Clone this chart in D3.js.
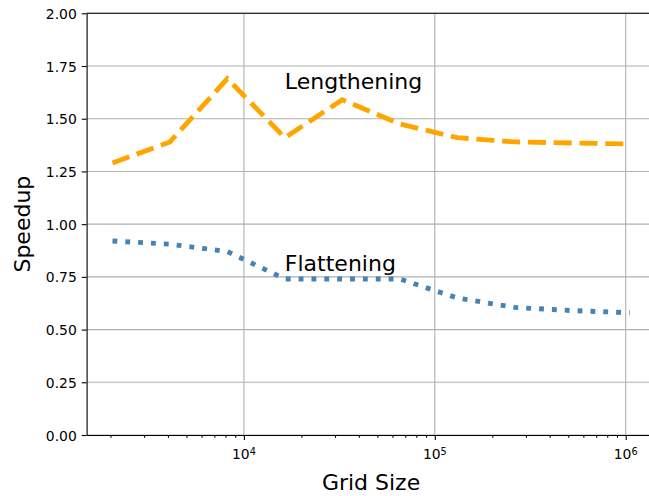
<!DOCTYPE html>
<html>
<head>
<meta charset="utf-8">
<script src="https://cdn.jsdelivr.net/npm/d3@7"></script>
<style>
  html, body { margin: 0; padding: 0; background: #fff; }
  svg { display: block; font-family: "DejaVu Sans", sans-serif; }
</style>
</head>
<body>
<svg id="chart" width="649" height="496"></svg>
<script>
// ---- data ----
const gridSizes   = [2048, 4096, 8192, 16384, 32768, 65536, 131072, 262144, 524288, 1048576];
const lengthening = [1.29, 1.39, 1.69, 1.41, 1.59, 1.475, 1.41, 1.39, 1.385, 1.38];
const flattening  = [0.92, 0.905, 0.87, 0.74, 0.74, 0.74, 0.65, 0.605, 0.59, 0.58];
const yTicks = [0, 0.25, 0.5, 0.75, 1.0, 1.25, 1.5, 1.75, 2.0];
const xMajorExp = [4, 5, 6];
const seriesLabels = [
  {text: "Lengthening", x: 16384, y: 1.64},
  {text: "Flattening",  x: 16384, y: 0.78}
];
const xLabel = "Grid Size";
const yLabel = "Speedup";

(function () {
// ---- layout ----
const svg = d3.select("#chart");
const pL = 86.6, pR = 655.5, pT = 13.3, pB = 435;

const lo = Math.log10(gridSizes[0]), hi = Math.log10(gridSizes[gridSizes.length - 1]);
const m = 0.05 * (hi - lo);
const x = d3.scaleLog().domain([Math.pow(10, lo - m), Math.pow(10, hi + m)]).range([pL, pR]);
const y = d3.scaleLinear().domain([0, 2]).range([pB, pT]);

svg.append("defs").append("clipPath").attr("id", "clip")
  .append("rect").attr("x", pL).attr("y", pT).attr("width", pR - pL).attr("height", pB - pT);

// grid
const grid = svg.append("g");
grid.selectAll(".gy").data(yTicks).enter().append("line")
  .attr("x1", pL).attr("x2", pR).attr("y1", d => y(d)).attr("y2", d => y(d))
  .attr("stroke", "#b0b0b0").attr("stroke-width", 1.1);
grid.selectAll(".gx").data(xMajorExp).enter().append("line")
  .attr("x1", d => x(Math.pow(10, d))).attr("x2", d => x(Math.pow(10, d)))
  .attr("y1", pT).attr("y2", pB)
  .attr("stroke", "#b0b0b0").attr("stroke-width", 1.1);

// lines
const line = d3.line().x(d => x(d[0])).y(d => y(d[1]));
const plot = svg.append("g").attr("clip-path", "url(#clip)");
plot.append("path")
  .attr("d", line(gridSizes.map((g, i) => [g, lengthening[i]])))
  .attr("fill", "none").attr("stroke", "#FFA500").attr("stroke-width", 4.86)
  .attr("stroke-dasharray", "18,7.8");
plot.append("path")
  .attr("d", line(gridSizes.map((g, i) => [g, flattening[i]])))
  .attr("fill", "none").attr("stroke", "#4682B4").attr("stroke-width", 4.86)
  .attr("stroke-dasharray", "4.86,8.0");

// series labels
svg.selectAll(".sl").data(seriesLabels).enter().append("text")
  .attr("x", d => x(d.x)).attr("y", d => y(d.y))
  .attr("font-size", "22px").attr("fill", "#000")
  .text(d => d.text);

// axes
const minorTicks = [];
for (let e = 3; e <= 6; e++) for (let k = 2; k <= 9; k++) {
  const v = k * Math.pow(10, e);
  if (v >= x.domain()[0] && v <= x.domain()[1]) minorTicks.push(v);
}
const majorVals = xMajorExp.map(e => Math.pow(10, e));

const xAxisMajor = svg.append("g").attr("transform", `translate(0,${pB})`)
  .call(d3.axisBottom(x).tickValues(majorVals).tickFormat("").tickSize(4.9).tickSizeOuter(0));
const xAxisMinor = svg.append("g").attr("transform", `translate(0,${pB})`)
  .call(d3.axisBottom(x).tickValues(minorTicks).tickFormat("").tickSize(2.8).tickSizeOuter(0));
xAxisMinor.select(".domain").remove();
[xAxisMajor, xAxisMinor].forEach(g => {
  g.selectAll("line").attr("stroke", "#000").attr("stroke-width", 1.1);
  g.select(".domain").attr("stroke", "#000").attr("stroke-width", 1.1);
});

// x major tick labels with superscript
const xl = svg.append("g");
xMajorExp.forEach(e => {
  const t = xl.append("text").attr("x", x(Math.pow(10, e))).attr("y", 459)
    .attr("text-anchor", "middle").attr("font-size", "13.9px").attr("fill", "#000");
  t.append("tspan").text("10");
  t.append("tspan").attr("font-size", "9.7px").attr("dy", -4.5).text(String(e));
});

const yAxis = svg.append("g").attr("transform", `translate(${pL},0)`)
  .call(d3.axisLeft(y).tickValues(yTicks).tickFormat(d3.format(".2f")).tickSize(4.9).tickPadding(4.9).tickSizeOuter(0));
yAxis.selectAll("line").attr("stroke", "#000").attr("stroke-width", 1.1);
yAxis.select(".domain").attr("stroke", "#000").attr("stroke-width", 1.1);
yAxis.selectAll("text").attr("font-size", "13.9px").attr("font-family", "DejaVu Sans").attr("fill", "#000").attr("dy", "0.36em");

// top spine
svg.append("line").attr("x1", pL).attr("x2", pR).attr("y1", pT).attr("y2", pT)
  .attr("stroke", "#000").attr("stroke-width", 1.1);

// axis labels
svg.append("text").attr("x", (pL + pR) / 2).attr("y", 490)
  .attr("text-anchor", "middle").attr("font-size", "22px").attr("fill", "#000").text(xLabel);
svg.append("text").attr("transform", `translate(29.5,${(pT + pB) / 2}) rotate(-90)`)
  .attr("text-anchor", "middle").attr("font-size", "22px").attr("fill", "#000").text(yLabel);
})();
</script>
</body>
</html>
